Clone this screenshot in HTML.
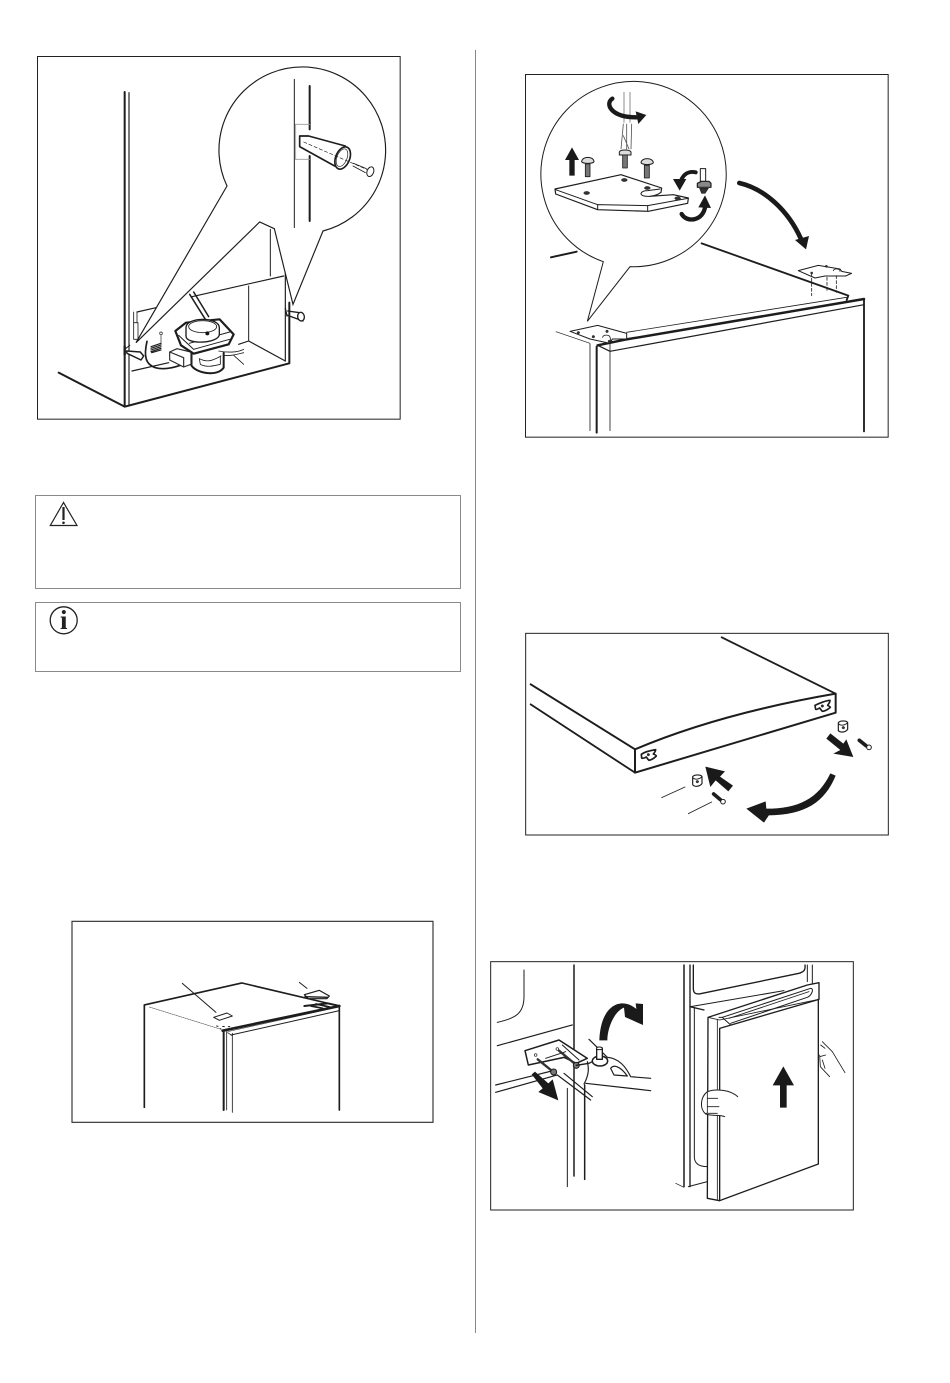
<!DOCTYPE html>
<html><head><meta charset="utf-8"><style>
html,body{margin:0;padding:0;background:#fff;width:950px;height:1383px;overflow:hidden}
svg{display:block}
.f{fill:#fff;stroke:#2a2a2a}
.l{fill:none;stroke:#1d1d1d;stroke-linecap:round;stroke-linejoin:round}
.b{fill:#1a1a1a;stroke:none}
</style></head><body>
<svg width="950" height="1383" viewBox="0 0 950 1383" xmlns="http://www.w3.org/2000/svg">
<rect width="950" height="1383" fill="#fff"/>
<line x1="475.5" y1="50" x2="475.5" y2="1333" stroke="#888" stroke-width="1"/>
<!-- Notice boxes -->
<rect x="35.5" y="495.5" width="425" height="93" fill="none" stroke="#8a8a8a" stroke-width="1"/>
<rect x="35.5" y="602.5" width="425" height="69" fill="none" stroke="#8a8a8a" stroke-width="1"/>
<path d="M63.5,502.5 L50.3,525.5 L77,525.5 Z" fill="none" stroke="#222" stroke-width="1.2"/>
<path d="M63.5,507 V520" stroke="#222" stroke-width="2.2"/>
<circle cx="63.5" cy="522.8" r="1.3" fill="#222"/>
<circle cx="63.7" cy="620.3" r="13.5" fill="none" stroke="#222" stroke-width="1.3"/>
<text x="63.7" y="629" text-anchor="middle" font-family="Liberation Serif, serif" font-weight="bold" font-size="27" fill="#222">i</text>

<!-- Panel 1 -->
<g transform="translate(37,56) scale(.33333)">
<rect x="1.5" y="1.5" width="1088" height="1088" fill="#fff" stroke="#222" stroke-width="3"/>
<g class="l">
<path d="M263,108V1052" stroke-width="6"/><path d="M276,110V1046" stroke-width="3.5"/>
<path d="M65,950L263,1052L757,922V740" stroke-width="6"/>
<path d="M745,650V915" stroke-width="3.5"/>
<path d="M300,768L357,755M465,722L740,660" stroke-width="3.5"/>
<path d="M635,690V855" stroke-width="3"/><path d="M700,520V660" stroke-width="3"/>
<path d="M285,945L395,920M605,865L635,855L745,915" stroke-width="3.5"/>
<!-- tool -->
<path d="M458,715L505,790M470,708L515,782" stroke-width="4.5"/>
<path d="M290,768V800M300,768V800" stroke-width="2.5"/><path d="M290,800H303V850H290Z" stroke-width="2.5"/>
<!-- coil -->
<path d="M330,856C320,900 325,925 355,935C380,942 410,935 430,928" stroke-width="5"/>
<path d="M342,872L372,862M342,877L372,867M342,882L372,872M342,887L372,877M344,890L372,882" stroke-width="3.5"/>
<path d="M372,838V865" stroke-width="2"/><circle cx="372" cy="832" r="4" stroke-width="2"/>
<!-- cylinder base -->
<path d="M462,925C470,950 540,965 560,935V890" stroke-width="6"/>
<path d="M465,890V925" stroke-width="3"/>
<path d="M487,908C510,920 525,915 552,900M487,908L490,925C510,935 530,930 550,925V900" stroke-width="2.5"/>
<path d="M545,885C570,890 600,890 620,880M560,898C585,900 600,895 620,890" stroke-width="2.5"/>
<path d="M590,898L620,925" stroke-width="2.5"/>
<!-- box -->
<path d="M398,888L420,878L462,888V925L440,933L398,912ZM398,888L440,905V933" class="f" stroke-width="3.5"/>
<!-- top block -->
<path d="M415,825L447,800L548,790L590,835L575,865L470,893L432,868Z" fill="#fff" stroke-width="6.5"/>
<path d="M425,838L470,880L578,850" stroke-width="3"/>
<path d="M457,862L582,827" stroke-width="3"/>
<path d="M447,815C447,782 547,782 547,815V835C547,862 447,868 447,840Z" fill="#fff" stroke-width="4"/>
<ellipse cx="497" cy="812" rx="42" ry="18" fill="#fff" stroke-width="2.5"/>
<circle cx="511" cy="832" r="5" fill="#111" stroke-width="2"/>
<!-- right peg -->
<path d="M745,757L750,780M752,765L788,770L798,795L752,778" stroke-width="4"/>
<ellipse cx="792" cy="782" rx="10" ry="13" fill="#fff" stroke-width="4" transform="rotate(-10 792 782)"/>
<!-- left peg -->
<path d="M263,880L278,868" stroke-width="3"/>
<path d="M268,885L310,888L320,900L312,912L270,892Z" fill="#fff" stroke-width="4.5"/>
<path d="M263,872V896" stroke-width="7"/>
</g>
<!-- callout -->
<path d="M570,390L297,860L668,498L712,518L768,745L858,525A250,250 0 1 0 570,390Z" fill="#fff" stroke="#1d1d1d" stroke-width="3.5" stroke-linejoin="miter"/>
<g class="l">
<path d="M772,70V515" stroke-width="3"/><path d="M818,90V220M818,300V495" stroke-width="6"/>
<path d="M775,205H818M775,310H818" stroke="#999" stroke-width="2.5"/>
<path d="M776,205V310" stroke="#999" stroke-width="2.5"/>
<path d="M788,240H815L925,270M788,240V272L893,330" stroke-width="5"/>
<path d="M800,258L1000,345" stroke-width="2" stroke-dasharray="10 7"/>
<ellipse cx="917" cy="306" rx="21" ry="35" fill="none" stroke-width="5" transform="rotate(22 917 306)"/>
<ellipse cx="915" cy="305" rx="15" ry="28" fill="none" stroke-width="2" transform="rotate(22 915 305)"/>
<path d="M950,322L988,338M948,330L985,350" stroke-width="2.5"/>
<ellipse cx="1000" cy="347" rx="10" ry="15" fill="#fff" stroke-width="3" transform="rotate(20 1000 347)"/>
</g>
</g>

<!-- Panel 2 -->
<g transform="translate(525,74) scale(.33333)">
<rect x="1.5" y="1.5" width="1088" height="1088" fill="#fff" stroke="#222" stroke-width="3"/>
<g class="l">
<path d="M78,550L155,533" stroke-width="6"/>
<path d="M530,508L970,665L965,678" stroke-width="5.5"/>
<path d="M305,775L965,670" stroke-width="2.5"/>
<path d="M218,814L255,832L1017,692" stroke-width="3.5"/>
<path d="M218,814L300,797L1017,675" stroke-width="7.5"/>
<path d="M1017,675V1072" stroke-width="5.5"/>
<path d="M255,808V1070" stroke-width="2.5"/>
<path d="M215,818V1076" stroke-width="6"/>
<path d="M195,810V1070" stroke-width="2.5"/>
<path d="M93,773L195,808" stroke-width="2"/>
<path d="M135,772L218,754L305,778L305,795L262,795L255,808L195,795Z" fill="#fff" stroke-width="3"/>
<path d="M233,790A10,6 0 0 1 255,790L258,800" stroke-width="2.5"/>
<circle cx="160" cy="776" r="4" fill="#333" stroke-width="1"/><circle cx="205" cy="788" r="4" fill="#333" stroke-width="1"/><circle cx="246" cy="772" r="4" fill="#333" stroke-width="1"/><circle cx="253" cy="802" r="4" fill="#333" stroke-width="1"/>
<path d="M820,590L880,574L945,585L950,592L980,598L962,606L900,606L870,612Z" fill="#fff" stroke-width="3"/>
<path d="M925,590A8,5 0 0 1 945,592" stroke-width="2.5"/>
<path d="M860,598V665M906,610V650M934,605V655" stroke-width="2.5" stroke-dasharray="9 6"/>
<circle cx="860" cy="597" r="3.5" fill="#333" stroke-width="1"/><circle cx="904" cy="577" r="3.5" fill="#333" stroke-width="1"/>
</g>
<!-- big curved arrow -->
<path class="l" style="stroke:#1a1a1a" stroke-width="14" d="M643,327C720,345 790,410 828,495" />
<path class="b" d="M810,498L852,486L843,526Z"/>
<!-- callout -->
<path d="M235,563L187,742L315,578A278,278 0 1 0 235,563Z" fill="#fff" stroke="#1d1d1d" stroke-width="3"/>
<g class="l">
<path d="M297,55V145M315,55V145" stroke="#777" stroke-width="2.5"/>
<path d="M295,150L288,225M305,150V225M320,150L318,225M295,185L312,225" stroke="#555" stroke-width="2.5"/>
<!-- bracket -->
<path d="M90,345L288,302L410,342L408,355Q395,365 375,367L445,362L490,372L488,388L370,412L218,407L92,360Z" fill="#fff" stroke-width="3.5"/>
<path d="M375,367Q348,368 348,358Q352,350 368,350L405,345" stroke-width="3"/>
<path d="M92,347L218,392L368,395L488,373M218,392V407M368,395V410" stroke-width="3"/>
<ellipse cx="298" cy="318" rx="9" ry="5" fill="#333" stroke-width="1"/>
<ellipse cx="185" cy="357" rx="9" ry="5" fill="#333" stroke-width="1"/>
<ellipse cx="367" cy="342" rx="9" ry="5" fill="#333" stroke-width="1"/>
<ellipse cx="458" cy="373" rx="9" ry="5" fill="#333" stroke-width="1"/>
<!-- screws -->
<path d="M170,262C173,246 204,246 207,262C207,270 170,270 170,262Z" fill="#ddd" stroke-width="3"/>
<path d="M181,270H195V308H181Z" fill="#777" stroke-width="2.5"/>
<path d="M348,265C351,250 382,250 385,265C385,274 348,274 348,265Z" fill="#ddd" stroke-width="3"/>
<path d="M358,274H373V312H358Z" fill="#777" stroke-width="2.5"/>
<path d="M283,234C286,226 314,226 318,234V243H283Z" fill="#ddd" stroke-width="3"/>
<path d="M293,243H307V282H293Z" fill="#777" stroke-width="2.5"/>
<!-- bolt -->
<path d="M526,284H542V322H526Z" fill="#fff" stroke-width="3"/>
<path d="M517,328L530,322H552L558,328V340H517Z" fill="#888" stroke-width="3.5"/>
<path d="M524,343H550L540,358H530Z" fill="#333" stroke-width="2"/>
</g>
<path class="b" d="M133,305V258H120L141,220L162,258H149V305Z"/>
<!-- curved arrows -->
<path class="l" style="stroke:#1a1a1a" stroke-width="13" d="M262,74C240,88 255,130 335,130"/>
<path class="b" d="M332,112L364,123L340,150Z"/>
<path class="l" style="stroke:#1a1a1a" stroke-width="12" d="M512,295C490,290 475,302 468,320"/>
<path class="b" d="M444,315L484,315L464,350Z"/>
<path class="l" style="stroke:#1a1a1a" stroke-width="13" d="M470,420C482,445 535,445 541,395"/>
<path class="b" d="M520,400L540,364L558,402Z"/>
</g>

<!-- Panel 3 -->
<g transform="translate(525,632) scale(.33333)">
<rect x="2" y="4" width="1088" height="605" fill="#fff" stroke="#222" stroke-width="3"/>
<g class="l">
<path d="M17,157L330,352V422L932,242V185C700,225 500,280 330,352" stroke-width="6"/>
<path d="M17,217L330,422" stroke-width="5.5"/>
<path d="M590,16L932,185" stroke-width="5.5"/>
<path d="M410,497L480,465M490,545L560,510" stroke-width="2.5"/>
<path d="M349,367C360,358 380,355 392,353C392,360 388,362 385,366C390,368 394,370 394,372C388,378 378,384 372,385C368,382 366,378 364,375C358,378 352,380 350,378Z" fill="#fff" stroke-width="5"/>
<circle cx="370" cy="368" r="4" fill="#333" stroke-width="1"/>
<path d="M870,220C880,215 905,205 915,205C915,212 910,216 908,220C912,222 916,224 916,226C910,232 898,238 892,238C888,234 886,230 884,228C880,230 874,234 872,232Z" fill="#fff" stroke-width="5"/>
<circle cx="892" cy="222" r="4" fill="#333" stroke-width="1"/>
<!-- nuts -->
<path d="M940,272C945,265 965,265 968,272V292C960,302 945,302 940,296Z" fill="#fff" stroke-width="3.5"/><path d="M941,276C948,282 960,280 968,272" stroke-width="2.5"/><circle cx="955" cy="287" r="4" fill="#333" stroke-width="1"/>
<path d="M503,434C508,427 528,427 531,434V455C523,465 508,465 503,458Z" fill="#fff" stroke-width="3.5"/><path d="M504,438C511,444 523,442 531,434" stroke-width="2.5"/><circle cx="517" cy="449" r="4" fill="#333" stroke-width="1"/>
<!-- screws -->
<path d="M1003,325L1023,341" stroke-width="11"/><circle cx="1032" cy="346" r="7" fill="#fff" stroke-width="3"/>
<path d="M566,486L586,503" stroke-width="11"/><circle cx="594" cy="509" r="7" fill="#fff" stroke-width="3"/>
</g>
<path class="b" d="M916,304L904,320L946,354L925,365L985,375L964,322L955,335Z"/>
<path class="b" d="M624,461L610,478L572,445L556,465L541,404L600,418L585,434Z"/>
<path class="b" d="M916,424L932,431C900,510 840,550 730,550L733,548L717,572L664,530L722,508L724,530C820,530 880,500 916,424Z"/>
</g>

<!-- Panel 4 -->
<g transform="translate(489,960) scale(.33333)">
<rect x="5" y="5" width="1088" height="745" fill="#fff" stroke="#222" stroke-width="3"/>
<g class="l">
<path d="M105,30V110C105,160 80,175 25,187" stroke-width="3"/>
<path d="M255,15V648" stroke-width="4.5"/>
<path d="M25,257L250,195" stroke-width="3.5"/>
<path d="M235,385V680" stroke-width="3"/>
<path d="M287,375V658" stroke-width="4.5"/>
<path d="M20,375L200,330M20,397L205,345" stroke-width="3.5"/>
<path d="M290,370L485,392M285,372C300,345 300,325 295,305" stroke-width="3.5"/>
<path d="M300,238L355,292C390,295 410,320 425,350L485,355" stroke-width="3.5"/>
<path d="M365,325C375,312 395,320 415,348L375,345Z" stroke-width="3.5"/>
<!-- bracket -->
<path d="M108,272L210,240L295,295L262,310L225,292L118,315Z" fill="#fff" stroke-width="4.5"/>
<path d="M220,255L270,300" stroke-width="3"/>
<path d="M170,295L230,275" stroke-width="3"/>
<circle cx="140" cy="285" r="4" stroke-width="2"/><circle cx="205" cy="267" r="4" stroke-width="2"/>
<path d="M146,298L192,335M210,272L262,315" stroke="#333" stroke-width="7"/>
<circle cx="194" cy="336" r="9" fill="#777" stroke-width="3"/><circle cx="262" cy="316" r="9" fill="#777" stroke-width="3"/>
<path d="M262,316L300,310L320,300L355,297" stroke-width="4"/>
<ellipse cx="333" cy="303" rx="23" ry="15" fill="#fff" stroke-width="4.5"/>
<path d="M323,265H340V298H323Z" fill="#fff" stroke-width="4"/>
<ellipse cx="331" cy="265" rx="9" ry="4" fill="#fff" stroke-width="3"/>
<path d="M205,345L305,420M225,340L310,410" stroke-width="3.5"/>
<!-- right side -->
<path d="M585,15V680" stroke-width="4.5"/>
<path d="M603,15V140L645,150" stroke-width="4"/>
<path d="M603,140V680" stroke-width="4"/>
<path d="M616,145V590C616,610 630,620 655,620" stroke-width="3"/>
<path d="M598,680L655,665" stroke-width="3"/><path d="M560,670L585,682" stroke-width="2"/>
<path d="M613,15V85C613,100 620,105 640,100L930,40C945,35 950,30 948,15" stroke-width="4"/>
<path d="M955,15V65M970,15V70" stroke-width="3"/>
<path d="M605,140L885,92" stroke-width="3"/>
<!-- door -->
<path d="M657,172L955,75L990,68V118L692,205V722L655,715Z" fill="#fff" stroke-width="4"/>
<path d="M692,722L988,612V118" fill="#fff" stroke-width="4"/>
<path d="M685,178V720" stroke-width="2.5"/>
<path d="M657,172L692,180L990,118" stroke-width="2.5"/>
<path d="M700,172L965,85C975,85 970,105 955,112L725,190" stroke-width="3"/>
<path d="M720,175L960,95" stroke-width="2.5"/>
<path d="M690,172L700,172L725,195" stroke-width="3"/>
<!-- hands -->
<path d="M746,410C725,390 680,385 655,395C635,410 630,445 650,462C675,470 690,462 707,470" fill="#fff" stroke-width="3"/>
<path d="M655,415H686M655,440H690M650,460H685M655,395V460" stroke-width="2.5"/>
<path d="M1000,245L1030,275L1068,338M992,285L994,320L1022,350M995,255L1008,265M992,290L1010,285M1000,300L1008,325" stroke-width="2.5"/>
</g>
<path class="b" d="M331,241H355C355,205 375,155 405,143L408,171L462,195V132L440,130L442,147C400,110 335,130 331,241Z"/>
<path class="b" d="M128,343L138,335L178,370L191,358L208,421L148,396L161,385Z"/>
<path class="b" d="M873,443V376H851L883,319L915,376H893V443Z"/>
</g>

<!-- Panel 5 -->
<g transform="translate(71,920) scale(.33333)">
<rect x="3" y="4" width="1083" height="603" fill="#fff" stroke="#333" stroke-width="3.5"/>
<g class="l">
<path d="M220,562V255L513,189L805,258V570" stroke-width="5"/>
<path d="M235,261L450,328" stroke-width="1.5" stroke-dasharray="5 2"/>
<path d="M334,190L435,277" stroke-width="3"/>
<path d="M428,292L468,279L484,288L445,301Z" stroke-width="3"/>
<path d="M685,187L708,205" stroke-width="3"/>
<path d="M700,224L745,211L775,228L768,236L712,236Z" fill="#fff" stroke-width="3.5"/>
<path d="M702,230L770,232" stroke-width="4"/>
<path d="M700,258L770,250L805,258" stroke-width="6"/>
<path d="M455,332L805,258" stroke-width="8"/>
<path d="M480,345L805,272" stroke-width="3"/><path d="M470,335L800,262" stroke-width="1.5"/>
<path d="M458,335V570" stroke-width="6"/><path d="M467,335V570" stroke-width="2.5"/>
<path d="M484,340V577" stroke-width="2.5"/>
<path d="M470,338L484,347" stroke-width="2.5"/>
<path d="M437,318L441,319M455,319L460,320M472,320L476,320M448,326L450,327" stroke-width="3"/>
<path d="M720,258L755,265M735,252L780,262" stroke-width="5"/>
</g>
</g>
</svg>
</body></html>
